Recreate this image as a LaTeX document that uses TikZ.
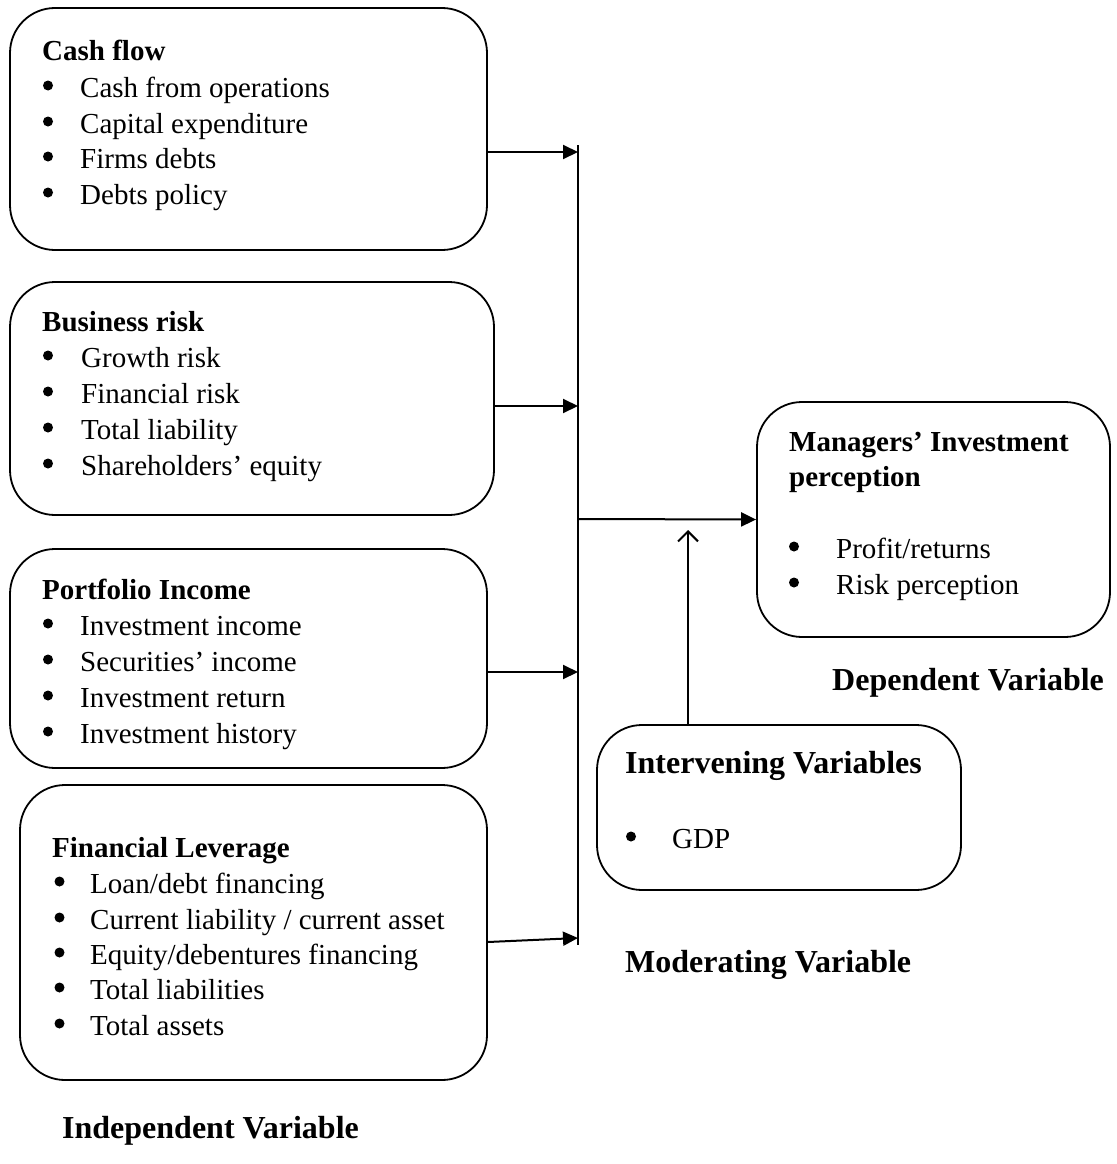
\documentclass[tikz,border=0pt]{standalone}
\usepackage{fontspec}
\setmainfont{Liberation Serif}
\usetikzlibrary{arrows.meta, positioning}

\tikzset{
  varbox/.style={draw, line width=1.8pt, rounded corners=45pt, inner sep=0pt},
  txt/.style={anchor=base west, inner sep=0pt, font=\fontsize{29}{36}\selectfont},
  hd/.style={txt, font=\fontsize{29}{36}\selectfont\bfseries},
  lbl/.style={anchor=base west, inner sep=0pt, font=\fontsize{32}{38}\selectfont\bfseries},
  feed/.style={line width=2pt, -{Triangle[length=15pt,width=14pt]}},
}

\begin{document}
\begin{tikzpicture}[x=1pt, y=-1pt]
            \useasboundingbox (0,0) rectangle (1116,1164);

            % boxes
            \node[varbox, minimum width=477pt, minimum height=242pt] (cashflow) at (248.5,129) {};
            \node[varbox, minimum width=484pt, minimum height=233pt] (bizrisk) at (252,398.5) {};
            \node[varbox, minimum width=477pt, minimum height=219pt] (portfolio) at (248.5,658.5) {};
            \node[varbox, minimum width=467pt, minimum height=295pt] (leverage) at (253.5,932.5) {};
            \node[varbox, minimum width=353pt, minimum height=235pt] (managers) at (933.5,519.5) {};
            \node[varbox, minimum width=364pt, minimum height=165pt] (intervening) at (779,807.5) {};

            % cash flow
            \node[hd] (cfhead) at (42,61) {Cash flow};
            \node[txt] (cf1) at (80,97) {Cash from operations};
            \node[txt] (cf2) at (80,133) {Capital expenditure};
            \node[txt] (cf3) at (80,168) {Firms debts};
            \node[txt] (cf4) at (80,204) {Debts policy};

            % business risk
            \node[hd] (brhead) at (42,331) {Business risk};
            \node[txt] (br1) at (81,367) {Growth risk};
            \node[txt] (br2) at (81,403) {Financial risk};
            \node[txt] (br3) at (81,439) {Total liability};
            \node[txt] (br4) at (81,475) {Shareholders’ equity};

            % portfolio income
            \node[hd] (pihead) at (42,599) {Portfolio Income};
            \node[txt] (pi1) at (80,635) {Investment income};
            \node[txt] (pi2) at (80,671) {Securities’ income};
            \node[txt] (pi3) at (80,707) {Investment return};
            \node[txt] (pi4) at (80,743) {Investment history};

            % financial leverage
            \node[hd] (flhead) at (52,857) {Financial Leverage};
            \node[txt] (fl1) at (90,893) {Loan/debt financing};
            \node[txt] (fl2) at (90,929) {Current liability / current asset};
            \node[txt] (fl3) at (90,964) {Equity/debentures financing};
            \node[txt] (fl4) at (90,999) {Total liabilities};
            \node[txt] (fl5) at (90,1035) {Total assets};

            % dependent
            \node[hd] (mphead) at (789,451) {Managers’ Investment};
            \node[hd] (mphead2) at (789,486) {perception};
            \node[txt] (mp1) at (836,558) {Profit/returns};
            \node[txt] (mp2) at (836,594) {Risk perception};

            % intervening
            \node[lbl] (ivhead) at (625,773) {Intervening Variables};
            \node[txt] (iv1) at (672,848) {GDP};

            % bullets
            \foreach \n/\dx in {cf1/32, cf2/32, cf3/32, cf4/32, br1/33, br2/33, br3/33, br4/33,
                                pi1/32, pi2/32, pi3/32, pi4/32, fl1/30.5, fl2/30.5, fl3/30.5,
                                fl4/30.5, fl5/30.5, mp1/42, mp2/42, iv1/41}
              \fill ([xshift=-\dx pt, yshift=11.5pt]\n.base west) circle (5pt);

            % captions
            \node[lbl] (deplbl) at (832,690) {Dependent Variable};
            \node[lbl] (modlbl) at (625,972) {Moderating Variable};
            \node[lbl] (indlbl) at (62,1138) {Independent Variable};

            % spine and arrows
            \coordinate (s1) at (578,152);
            \coordinate (s2) at (578,406);
            \coordinate (s3) at (578,672);
            \coordinate (s4) at (578,938);
            \coordinate (hub) at (578,519);
            \coordinate (up) at (688,530);

            \draw[line width=2pt] (578,145) -- (578,945);
            \draw[feed] (cashflow.east |- s1) -- (s1);
            \draw[feed] (bizrisk.east |- s2) -- (s2);
            \draw[feed] (portfolio.east |- s3) -- (s3);
            \draw[feed] (leverage.east |- 0,942) -- (s4);
            \draw[feed] (hub) -- (managers.west);
            \draw[line width=2pt, -{Straight Barb[length=10pt,width=20pt]}] (intervening.north -| up) -- (up);
        \end{tikzpicture}
\end{document}
